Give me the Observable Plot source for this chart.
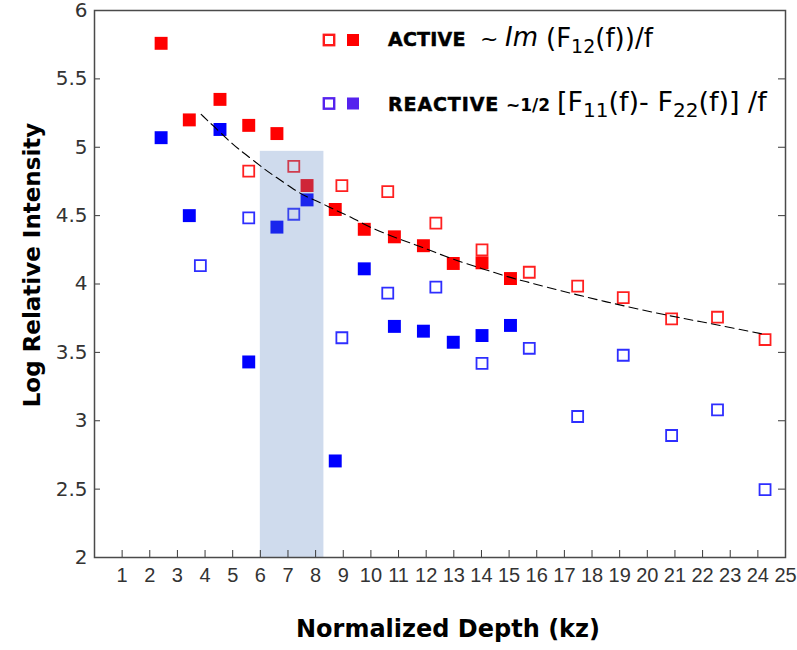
<!DOCTYPE html>
<html>
<head>
<meta charset="utf-8">
<script src="https://cdn.jsdelivr.net/npm/d3@7"></script>
<script src="https://cdn.jsdelivr.net/npm/@observablehq/plot@0.6"></script>
<style>
  body { margin: 0; background: #fff; }
  #chart { width: 797px; height: 650px; }
  g[aria-label="x-axis tick label"] { font-family: "Liberation Sans Narrow", "Arial Narrow", "Liberation Sans", sans-serif; font-size: 20px; fill: #333; }
  g[aria-label="y-axis tick label"] { font-family: "DejaVu Sans", sans-serif; font-size: 20px; fill: #333; }
  g[aria-label="x-axis tick"], g[aria-label="y-axis tick"] { stroke: #3a3a3a; }
</style>
</head>
<body>
<div id="chart"></div>
<script>
// ---- Data ----
// ACTIVE (red), filled squares
const activeFilledDepth = [2.41, 3.43, 4.54, 5.58, 6.60, 7.69, 8.71, 9.76, 10.85, 11.90, 12.98, 14.02, 15.05];
const activeFilledLog   = [5.76, 5.20, 5.35, 5.16, 5.10, 4.72, 4.545, 4.40, 4.345, 4.28, 4.15, 4.155, 4.04];
// ACTIVE (red), open squares
const activeOpenDepth = [5.58, 7.21, 8.95, 10.61, 12.35, 14.02, 15.73, 17.48, 19.13, 20.88, 22.54, 24.26];
const activeOpenLog   = [4.825, 4.86, 4.72, 4.675, 4.445, 4.25, 4.086, 3.985, 3.90, 3.745, 3.757, 3.594];
// REACTIVE (blue), filled squares
const reactiveFilledDepth = [2.41, 3.43, 4.54, 5.58, 6.60, 7.69, 8.71, 9.76, 10.85, 11.90, 12.98, 14.02, 15.05];
const reactiveFilledLog   = [5.07, 4.50, 5.13, 3.43, 4.416, 4.615, 2.706, 4.111, 3.69, 3.655, 3.574, 3.623, 3.697];
// REACTIVE (blue), open squares
const reactiveOpenDepth = [3.83, 5.58, 7.21, 8.95, 10.61, 12.35, 14.02, 15.73, 17.48, 19.13, 20.88, 22.54, 24.26];
const reactiveOpenLog   = [4.135, 4.483, 4.51, 3.607, 3.933, 3.977, 3.419, 3.53, 3.031, 3.479, 2.892, 3.080, 2.497];
// dashed fit curve
const fitDepth = [3.86, 4.28, 5.06, 5.39, 6.21, 6.51, 7.29, 7.65, 8.23, 8.71, 9.28, 9.94, 11.09, 11.87, 12.90, 14.04, 15.07, 15.55, 16.36, 17.48, 18.56, 19.65, 20.85, 21.94, 23.08, 24.26];
const fitLog   = [5.24, 5.16, 5.01, 4.96, 4.83, 4.79, 4.68, 4.64, 4.59, 4.54, 4.49, 4.415, 4.323, 4.269, 4.184, 4.111, 4.045, 4.021, 3.977, 3.92, 3.867, 3.818, 3.765, 3.725, 3.678, 3.631];
// shaded band
const bandDepth = [6.0, 8.3];
const bandLog = [2.0, 4.97];
// axes
const xTicks = [1,2,3,4,5,6,7,8,9,10,11,12,13,14,15,16,17,18,19,20,21,22,23,24,25];
const yTicks = [2, 2.5, 3, 3.5, 4, 4.5, 5, 5.5, 6];
const xDomain = [0, 25];
const yDomain = [2, 6];

const pts = (xs, ys) => xs.map((x, i) => ({x, y: ys[i]}));
const activeFilled = pts(activeFilledDepth, activeFilledLog);
const activeOpen = pts(activeOpenDepth, activeOpenLog);
const reactiveFilled = pts(reactiveFilledDepth, reactiveFilledLog);
const reactiveOpen = pts(reactiveOpenDepth, reactiveOpenLog);
const fit = pts(fitDepth, fitLog);
const band = [{x1: bandDepth[0], x2: bandDepth[1], y1: bandLog[0], y2: bandLog[1]}];

const svg = Plot.plot({
  width: 797,
  height: 650,
  marginLeft: 94,
  marginRight: 12,
  marginTop: 10,
  marginBottom: 93,
  x: {domain: xDomain},
  y: {domain: yDomain},
  style: {background: "white", overflow: "visible"},
  marks: [
    Plot.dot(activeOpen, {x: "x", y: "y", symbol: "square", r: 6.2, stroke: "#ff2020", strokeWidth: 1.8, fill: "none"}),
    Plot.dot(reactiveOpen, {x: "x", y: "y", symbol: "square", r: 6.2, stroke: "#2e2eff", strokeWidth: 1.8, fill: "none"}),
    Plot.dot(activeFilled, {x: "x", y: "y", symbol: "square", r: 7.3, fill: "#ff0000", stroke: "none"}),
    Plot.dot(reactiveFilled, {x: "x", y: "y", symbol: "square", r: 7.3, fill: "#0000ff", stroke: "none"}),
    Plot.rect(band, {x1: "x1", x2: "x2", y1: "y1", y2: "y2", fill: "rgb(90,131,193)", fillOpacity: 0.29}),
    Plot.line(fit, {x: "x", y: "y", stroke: "#000", strokeWidth: 1.1, strokeDasharray: "9,5", curve: "basis"}),
    Plot.axisX({ticks: xTicks, tickSize: -7, tickPadding: 17, label: null, tickFormat: d => String(d)}),
    Plot.axisY({ticks: yTicks, tickSize: -6, tickPadding: 13, label: null, tickFormat: d => String(d)}),
    Plot.axisY({anchor: "right", ticks: yTicks, tickSize: -8, label: null, tickFormat: () => ""}),
    Plot.frame({stroke: "#4a4a4a", strokeWidth: 1.5})
  ]
});
document.getElementById("chart").appendChild(svg);

// ---- axis titles & legend (text) ----
const s = d3.select(svg);
s.append("text")
  .attr("transform", "translate(40,265) rotate(-90)")
  .attr("text-anchor", "middle")
  .style("font-family", "'DejaVu Sans', sans-serif").style("font-weight", "bold").style("font-size", "23px")
  .attr("fill", "#000")
  .text("Log Relative Intensity");
s.append("text")
  .attr("x", 448).attr("y", 637)
  .attr("text-anchor", "middle")
  .style("font-family", "'DejaVu Sans', sans-serif").style("font-weight", "bold").style("font-size", "24px")
  .attr("fill", "#000")
  .text("Normalized Depth (kz)");

const lg = s.append("g").attr("text-anchor", "start").style("font-family", "'DejaVu Sans', sans-serif").attr("fill", "#000");
// legend swatches
lg.append("rect").attr("x", 323.8).attr("y", 34.8).attr("width", 10.4).attr("height", 10.4).attr("fill", "none").attr("stroke", "#ff1a1a").attr("stroke-width", 2.4);
lg.append("rect").attr("x", 347).attr("y", 34).attr("width", 12).attr("height", 12).attr("fill", "#ff0000");
lg.append("rect").attr("x", 323.8).attr("y", 98.3).attr("width", 10.4).attr("height", 10.4).attr("fill", "none").attr("stroke", "#5522ee").attr("stroke-width", 2.4);
lg.append("rect").attr("x", 347).attr("y", 97.5).attr("width", 12).attr("height", 12).attr("fill", "#5522ee");

// line 1
lg.append("text").attr("x", 388).attr("y", 46).style("font-weight", "bold").style("font-size", "19px").style("letter-spacing", "0.2px")
  .attr("stroke", "#000").attr("stroke-width", 0.5).text("ACTIVE");
lg.append("text").attr("x", 480).attr("y", 46).style("font-size", "22px").text("~");
lg.append("text").attr("x", 505).attr("y", 46).style("font-style", "italic").style("font-size", "26px").text("Im");
const t1 = lg.append("text").attr("x", 546).attr("y", 47).style("font-size", "26px");
t1.append("tspan").text("(F");
t1.append("tspan").attr("dy", 6).style("font-size", "19px").text("12");
t1.append("tspan").attr("dy", -6).text("(f))/f");

// line 2
lg.append("text").attr("x", 388).attr("y", 111).style("font-weight", "bold").style("font-size", "19px").style("letter-spacing", "0.9px")
  .attr("stroke", "#000").attr("stroke-width", 0.5).text("REACTIVE");
lg.append("text").attr("x", 506).attr("y", 111).style("font-weight", "bold").style("font-size", "17px").text("~1/2");
const t2 = lg.append("text").attr("x", 557).attr("y", 111).style("font-size", "27px");
t2.append("tspan").text("[F");
t2.append("tspan").attr("dy", 6).style("font-size", "20px").text("11");
t2.append("tspan").attr("dy", -6).text("(f)- F");
t2.append("tspan").attr("dy", 6).style("font-size", "20px").text("22");
t2.append("tspan").attr("dy", -6).text("(f)] /f");
</script>
</body>
</html>
